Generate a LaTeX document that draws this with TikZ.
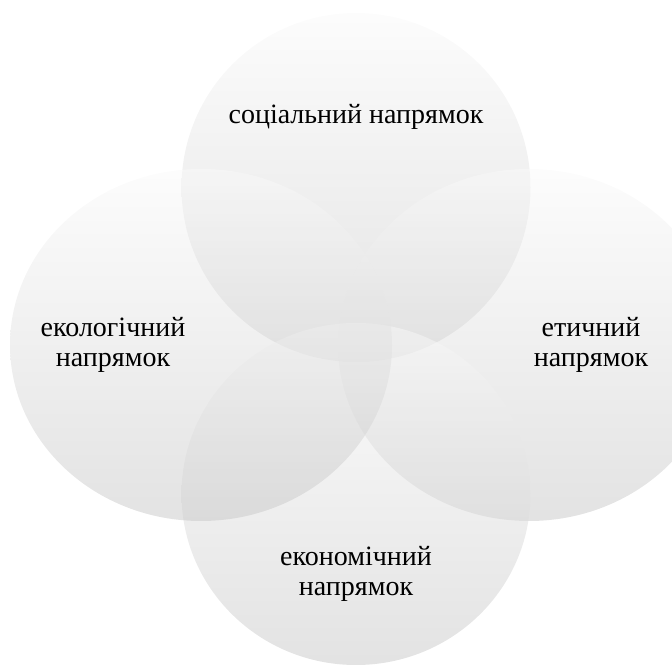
\documentclass[tikz,border=0pt]{standalone}
\usepackage{fontspec}
\setmainfont{Liberation Serif}
\usepackage{tikz}
\usetikzlibrary{positioning}

\begin{document}
\begin{tikzpicture}[x=1pt, y=1pt,
    blob/.style={top color=black!2, bottom color=black!22, fill opacity=0.5, draw=none},
    lbl/.style={align=center, font=\fontsize{28}{30}\selectfont, text=black}]
    \useasboundingbox (0,0) rectangle (672,668);

    % the four directions
    \shade[blob] (356,480.5) ellipse (174.5 and 174.5);
    \shade[blob] (529,323) ellipse (191 and 176);
    \shade[blob] (356,174) ellipse (174.5 and 171);
    \shade[blob] (201,323) ellipse (191 and 176);

    \node[lbl] (soc) at (356,551) {соціальний напрямок};
    \node[lbl] (eco) at (113,323) {екологічний\\напрямок};
    \node[lbl] (eth) at (591,323) {етичний\\напрямок};
    \node[lbl] (econ) at (356,94) {економічний\\напрямок};
\end{tikzpicture}
\end{document}
